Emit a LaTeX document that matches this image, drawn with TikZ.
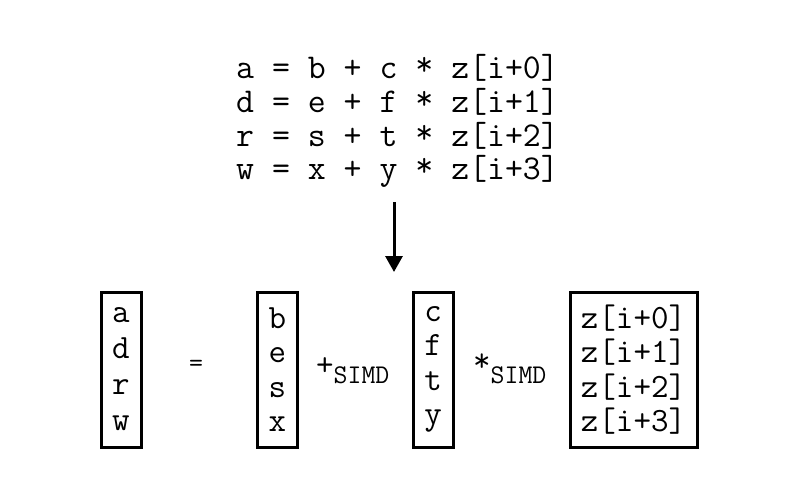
\documentclass[tikz,border=0pt]{standalone}
\usepackage{fontspec}
\usetikzlibrary{arrows.meta, positioning}
\tikzstyle{code}=[inner sep=0pt, font=\ttfamily\fontsize{34.8}{33.7}\selectfont]
\tikzstyle{vecbox}=[draw, line width=3pt, align=center, inner sep=0pt, minimum width=40pt, minimum height=155pt, font=\ttfamily\fontsize{34}{34.5}\selectfont]
\tikzstyle{simd}=[inner sep=0pt, anchor=base west, font=\ttfamily\fontsize{34}{33.7}\selectfont]
\newcommand{\simdsub}{\raisebox{-8pt}{\fontsize{27}{27}\selectfont SIMD}}
\newcommand{\upstar}{\raisebox{3pt}{*}}
\begin{document}
\begin{tikzpicture}[x=1pt, y=-1pt]
\useasboundingbox (0,0) rectangle (800,496);
\node [code, anchor=base west] (line1) at (236,78) {a = b + c \upstar{} z[i+0]};
\node [code, anchor=base west] (line2) at (236,112) {d = e + f \upstar{} z[i+1]};
\node [code, anchor=base west] (line3) at (236,146) {r = s + t \upstar{} z[i+2]};
\node [code, anchor=base west] (line4) at (236,179) {w = x + y \upstar{} z[i+3]};
\coordinate (arrtop) at (394,202); \coordinate (arrtip) at (394,272);
\draw [line width=3pt, -{Triangle[width=17pt, length=16pt]}] (arrtop) -- (arrtip);
\node [vecbox, font=\ttfamily\fontsize{34}{36}\selectfont] (va) at (121,369.5) {a\\d\\r\\w};
\node [inner sep=0pt, font=\ttfamily\fontsize{27}{27}\selectfont] (eq) at (196,366) {=};
\node [vecbox] (vb) at (277.5,369.5) {b\\e\\s\\x};
\node [simd] (plus) at (316,375) {+\simdsub};
\node [vecbox] (vc) at (433,369.5) {c\\f\\t\\y};
\node [simd] (times) at (473,375) {\raisebox{4pt}{*}\simdsub};
\node [vecbox, minimum width=127pt] (vz) at (633.5,369.5) {z[i+0]\\z[i+1]\\z[i+2]\\z[i+3]};
\end{tikzpicture}
\end{document}
